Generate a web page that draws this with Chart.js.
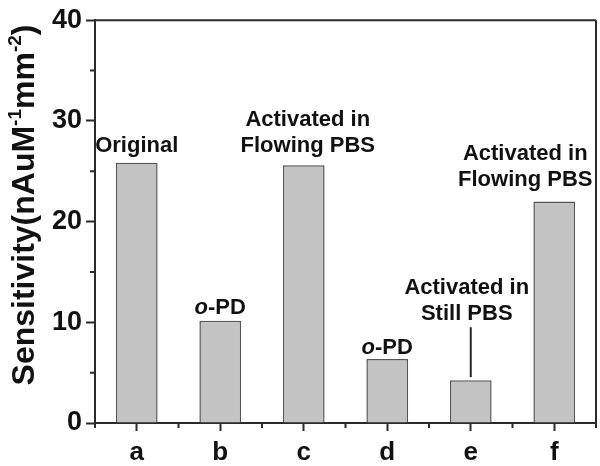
<!DOCTYPE html>
<html>
<head>
<meta charset="utf-8">
<script src="https://cdn.jsdelivr.net/npm/chart.js@4/dist/chart.umd.min.js"></script>
<style>
  body { margin: 0; background: #fff; }
</style>
</head>
<body>
<canvas id="myChart" width="600" height="466"></canvas>
<script>
var categorias = ["a", "b", "c", "d", "e", "f"];
var sensibilidade = [25.85, 10.15, 25.6, 6.35, 4.25, 22.0];
var notas = [
  ["Original"],
  ["o-PD"],
  ["Activated in", "Flowing PBS"],
  ["o-PD"],
  ["Activated in", "Still PBS"],
  ["Activated in", "Flowing PBS"]
];
var yTicks = [0, 10, 20, 30, 40];

var FONTE = '"Liberation Sans", Arial, sans-serif';
var COR_EIXO = "#2a2a2a";

// deslocamentos das notas em px (posicao, nao dados)
var notaDx = [0, 0, 4, 0, -4, -29];
var notaGap = [11, 7, 13, 5, 0, 15];

// desenha textos sobre as barras, caixa, ticks menores e titulo do eixo y
var extras = {
  id: "extras",
  afterDraw: function (chart) {
    var c = chart.ctx;
    var area = chart.chartArea;
    var x = chart.scales.x;
    var y = chart.scales.y;
    c.save();

    // caixa
    c.strokeStyle = COR_EIXO;
    c.lineWidth = 2;
    c.beginPath();
    c.moveTo(area.left, area.top);
    c.lineTo(area.right, area.top);
    c.moveTo(area.right, area.top);
    c.lineTo(area.right, area.bottom);
    c.stroke();

    // ticks menores
    c.beginPath();
    for (var v = 5; v < 40; v += 10) {
      var py = y.getPixelForValue(v);
      c.moveTo(area.left, py);
      c.lineTo(area.left - 5, py);
    }
    for (var i = 0; i <= categorias.length; i++) {
      var px = x.getPixelForValue(i - 0.5);
      c.moveTo(px, area.bottom);
      c.lineTo(px, area.bottom + 5);
    }
    c.stroke();

    // notas
    c.fillStyle = "#111";
    c.textBaseline = "alphabetic";
    var lh = 26;
    for (var i = 0; i < notas.length; i++) {
      var cx = x.getPixelForValue(i) + notaDx[i];
      var topo = y.getPixelForValue(sensibilidade[i]);
      var base = topo - notaGap[i];
      if (i == 4) {
        c.lineWidth = 2;
        c.beginPath();
        c.moveTo(cx + 4, topo - 3);
        c.lineTo(cx + 4, topo - 53);
        c.stroke();
        base = topo - 60;
      }
      var linhas = notas[i];
      for (var j = 0; j < linhas.length; j++) {
        var by = base - (linhas.length - 1 - j) * lh;
        var txt = linhas[j];
        if (txt.indexOf("o-") == 0) {
          var fItal = "italic bold 22px " + FONTE;
          var fNorm = "bold 22px " + FONTE;
          c.font = fItal;
          var w1 = c.measureText("o").width;
          c.font = fNorm;
          var w2 = c.measureText(txt.substring(1)).width;
          var sx = cx - (w1 + w2) / 2;
          c.textAlign = "left";
          c.font = fItal;
          c.fillText("o", sx, by);
          c.font = fNorm;
          c.fillText(txt.substring(1), sx + w1, by);
        } else {
          c.textAlign = "center";
          c.font = "bold 22px " + FONTE;
          c.fillText(txt, cx, by);
        }
      }
    }

    // titulo do eixo y com sobrescritos
    var partes = [
      ["Sensitivity(nAuM", false],
      ["-1", true],
      ["mm", false],
      ["-2", true],
      [")", false]
    ];
    var fG = "bold 32px " + FONTE;
    var fP = "bold 19px " + FONTE;
    var total = 0;
    partes.forEach(function (p) {
      c.font = p[1] ? fP : fG;
      total += c.measureText(p[0]).width;
    });
    c.translate(34, 205);
    c.rotate(-Math.PI / 2);
    c.textAlign = "left";
    var posX = -total / 2;
    partes.forEach(function (p) {
      c.font = p[1] ? fP : fG;
      c.fillText(p[0], posX, p[1] ? -13 : 0);
      posX += c.measureText(p[0]).width;
    });
    c.restore();
  }
};

var ctx = document.getElementById("myChart");
var data = {
  labels: categorias,
  datasets: [
    {
      data: sensibilidade,
      backgroundColor: "#c3c3c3",
      borderColor: "#555",
      borderWidth: 1.5,
      barPercentage: 0.5,
      categoryPercentage: 1
    }
  ]
};
var config = {
  type: "bar",
  data: data,
  options: {
    responsive: false,
    animation: false,
    layout: { padding: { top: 17, right: 4, left: 0, bottom: 0 } },
    plugins: { legend: { display: false }, tooltip: { enabled: false } },
    scales: {
      x: {
        afterFit: function (s) { s.height = 43; },
        grid: { offset: false, drawOnChartArea: false, tickLength: 8, tickWidth: 2, tickColor: COR_EIXO },
        border: { color: COR_EIXO, width: 2 },
        ticks: { color: "#111", padding: 6, font: { family: FONTE, size: 26, weight: "bold" } }
      },
      y: {
        min: 0,
        max: 40,
        afterFit: function (s) { s.width = 95; },
        afterBuildTicks: function (s) {
          s.ticks = yTicks.map(function (v) { return { value: v }; });
        },
        grid: { drawOnChartArea: false, tickLength: 9, tickWidth: 2, tickColor: COR_EIXO },
        border: { color: COR_EIXO, width: 2 },
        ticks: { color: "#111", padding: 4, font: { family: FONTE, size: 27, weight: "bold" } }
      }
    }
  },
  plugins: [extras]
};

var myChart = new Chart(ctx, config);
</script>
</body>
</html>
